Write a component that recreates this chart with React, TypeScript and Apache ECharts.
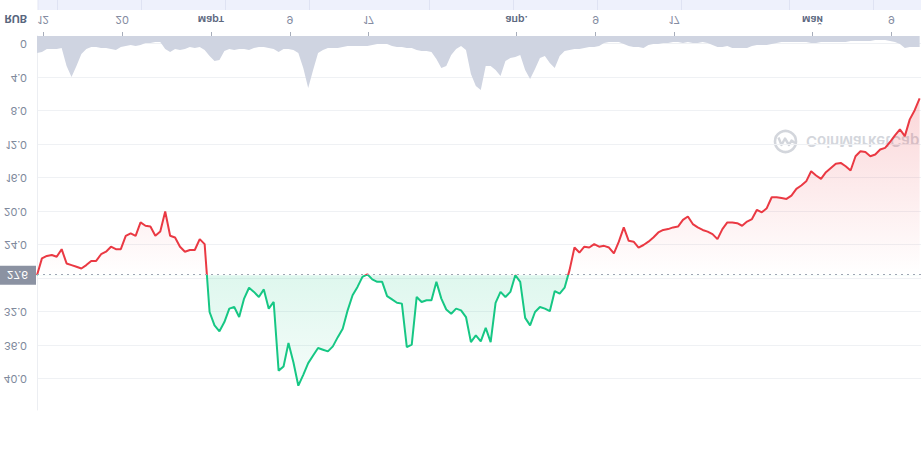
import { useEffect, useRef } from "react";
import * as echarts from "echarts";

// ---- data (12-hour steps) ----
const START = Date.UTC(2025, 1, 11, 8, 40);
const END = Date.UTC(2025, 4, 12);
const STEP_MS = 12 * 3600 * 1000;

const PRICE = [
  27.6, 25.6, 25.3, 25.2, 25.4, 24.5, 26.2, 26.4, 26.6, 26.8,
  26.4, 25.9, 25.9, 25.1, 24.8, 24.2, 24.5, 24.5, 22.9, 22.6,
  22.9, 21.3, 21.7, 21.8, 22.9, 22.4, 20.0, 22.9, 23.1, 24.2,
  24.8, 24.6, 24.6, 23.3, 23.9, 32.0, 33.6, 34.3, 33.2, 31.6,
  31.4, 32.6, 30.4, 29.1, 29.6, 30.2, 29.3, 31.6, 30.8, 39.0,
  38.5, 35.7, 38.0, 40.8, 39.5, 38.1, 37.2, 36.3, 36.5, 36.7,
  36.1, 35.0, 34.0, 31.8, 30.0, 29.0, 27.8, 27.5, 28.1, 28.4,
  28.4, 30.1, 30.5, 30.9, 31.0, 36.2, 35.9, 30.2, 30.8, 30.6,
  30.6, 28.4, 30.4, 31.7, 32.2, 31.6, 31.8, 32.6, 35.6, 34.8,
  35.5, 33.9, 35.6, 30.9, 29.6, 30.2, 29.6, 27.6, 28.4, 32.7,
  33.6, 32.0, 31.4, 31.6, 31.9, 29.5, 29.8, 29.1, 27.0, 24.3,
  24.9, 24.2, 24.3, 23.9, 24.2, 24.1, 24.3, 25.0, 23.6, 21.9,
  23.5, 23.6, 24.3, 24.0, 23.6, 23.1, 22.5, 22.2, 22.1, 21.9,
  21.8, 21.0, 20.6, 21.5, 21.9, 22.2, 22.4, 22.7, 23.3, 22.1,
  21.3, 21.3, 21.4, 21.7, 21.2, 20.9, 19.8, 20.1, 19.6, 18.3,
  18.3, 18.4, 18.5, 18.1, 17.3, 16.9, 16.4, 15.2, 15.7, 16.1,
  15.3, 14.8, 14.3, 14.2, 14.6, 15.1, 13.4, 12.8, 12.9, 13.4,
  13.2, 12.6, 12.4, 11.7, 10.9, 10.2, 11.0, 9.0, 7.9, 6.5,
];

const VOLUME = [
  17, 16, 13, 13, 13, 12, 30, 41, 30, 18,
  13, 11, 11, 12, 12, 13, 14, 11, 10, 9,
  10, 9, 7, 7, 6, 6, 13, 16, 13, 14,
  13, 11, 12, 11, 14, 20, 25, 24, 15, 13,
  14, 13, 13, 14, 12, 11, 11, 12, 13, 16,
  13, 13, 14, 17, 32, 52, 34, 17, 14, 12,
  12, 12, 11, 10, 10, 10, 10, 10, 9, 8,
  8, 8, 10, 11, 11, 12, 12, 14, 15, 15,
  16, 23, 32, 30, 19, 13, 10, 14, 38, 50,
  54, 30, 30, 34, 40, 25, 22, 21, 19, 34,
  43, 33, 22, 20, 27, 32, 20, 15, 14, 13,
  13, 12, 11, 11, 10, 7, 6, 6, 6, 8,
  10, 11, 11, 12, 9, 8, 8, 7, 7, 6,
  6, 7, 6, 7, 7, 6, 7, 9, 11, 11,
  10, 12, 12, 12, 12, 10, 9, 9, 9, 8,
  7, 6, 6, 6, 6, 6, 6, 7, 7, 6,
  6, 6, 6, 6, 6, 5, 5, 5, 5, 5,
  4, 4, 4, 5, 6, 8, 12, 11, 11, 11,
];

const REF_PRICE = 27.6;
const REF_LABEL = "27.6";
const PRICE_MIN = 0;
const PRICE_MAX = 43.7;
const PRICE_INTERVAL = 4;
const VOLUME_MAX = 100;
const CURRENCY = "RUB";

const TICK_DATES: [number, number, number][] = [
  [2025, 1, 12], [2025, 1, 20], [2025, 2, 1], [2025, 2, 9], [2025, 2, 17],
  [2025, 3, 1], [2025, 3, 9], [2025, 3, 17], [2025, 4, 1], [2025, 4, 9],
];
const MONTHS = ["янв.", "февр.", "март", "апр.", "май", "июнь", "июль", "авг.", "сент.", "окт.", "нояб.", "дек."];

// ---- layout ----
const W = 921;
const H = 467;
const GRID_LEFT = 37;
const PRICE_TOP = 57;
const PRICE_BOTTOM = 44;
const VOL_BOTTOM = 36;
const VOL_HEIGHT = 100;
const NAV_DIVIDERS = [57.5, 141.5, 225.5, 309.5, 429.5, 513.5, 597.5, 681.5, 789.5, 873.5];
const FONT = "Inter, Roboto, 'Noto Sans', sans-serif";

export default function App() {
  const ref = useRef<HTMLDivElement>(null);

  useEffect(() => {
    if (!ref.current) return;
    const chart = echarts.init(ref.current, undefined, { renderer: "svg" });

    const priceData = PRICE.map((v, i) => [START + i * STEP_MS, v]);
    const volData = VOLUME.map((v, i) => [START + i * STEP_MS, v]);
    const ticks = TICK_DATES.map(([y, m, d]) => Date.UTC(y, m, d));

    const gTop = PRICE_TOP;
    const gBot = H - PRICE_BOTTOM;
    const refOff = (PRICE_MAX - REF_PRICE) / (PRICE_MAX - PRICE_MIN);

    const lineGrad = new echarts.graphic.LinearGradient(0, gTop, 0, gBot, [
      { offset: 0, color: "#16c784" },
      { offset: refOff, color: "#16c784" },
      { offset: refOff, color: "#ea3943" },
      { offset: 1, color: "#ea3943" },
    ], true);
    const areaGrad = new echarts.graphic.LinearGradient(0, gTop, 0, gBot, [
      { offset: 0, color: "rgba(22,199,132,0.02)" },
      { offset: refOff, color: "rgba(22,199,132,0.14)" },
      { offset: refOff, color: "rgba(234,57,67,0.0)" },
      { offset: 1, color: "rgba(234,57,67,0.27)" },
    ], true);

    chart.setOption({
      animation: false,
      textStyle: { fontFamily: FONT },
      grid: [
        { left: GRID_LEFT, right: 0, top: PRICE_TOP, bottom: PRICE_BOTTOM },
        { left: GRID_LEFT, right: 0, bottom: VOL_BOTTOM, height: VOL_HEIGHT },
      ],
      xAxis: [
        { type: "value", gridIndex: 0, min: START, max: END, show: false, splitLine: { show: false } },
        {
          type: "value",
          gridIndex: 1,
          min: START,
          max: END,
          axisLine: { show: false },
          splitLine: { show: false },
          axisTick: {
            show: true,
            customValues: ticks,
            length: 4,
            lineStyle: { color: "#a7adba", width: 1 },
          },
          axisLabel: {
            customValues: ticks,
            margin: 11,
            color: "#858ca2",
            fontSize: 11,
            fontFamily: FONT,
            formatter: (val: number) => {
              const d = new Date(val);
              const day = d.getUTCDate();
              if (day === 1) return "{m|" + MONTHS[d.getUTCMonth()] + "}";
              return String(day);
            },
            rich: {
              m: { fontSize: 10.5, fontWeight: 600, color: "#5d6880", fontFamily: FONT },
            },
          },
        },
      ],
      yAxis: [
        {
          type: "value",
          gridIndex: 0,
          min: PRICE_MIN,
          max: PRICE_MAX,
          interval: PRICE_INTERVAL,
          axisLine: { show: true, lineStyle: { color: "#eceef2" } },
          axisTick: { show: false },
          axisLabel: {
            margin: 10,
            color: "#808a9d",
            fontSize: 11,
            fontFamily: FONT,
            showMaxLabel: false,
            formatter: (v: number) => {
              if (v === 0) return "0";
              if (Math.abs(v - REF_PRICE) < 1) return "";
              if (v > PRICE_MAX - 1) return "";
              return v.toFixed(1);
            },
          },
          splitLine: { show: true, showMaxLine: false, lineStyle: { color: "#eff1f4", width: 1 } },
        },
        {
          type: "value",
          gridIndex: 1,
          min: 0,
          max: VOLUME_MAX,
          axisLine: { show: true, lineStyle: { color: "#eceef2" } },
          axisTick: { show: false },
          axisLabel: { show: false },
          splitLine: { show: false },
        },
      ],
      series: [
        {
          type: "line",
          name: "volume",
          xAxisIndex: 1,
          yAxisIndex: 1,
          data: volData,
          symbol: "none",
          silent: true,
          lineStyle: { width: 0 },
          areaStyle: { color: "#cfd4e1", opacity: 1 },
        },
        {
          type: "line",
          name: "price",
          xAxisIndex: 0,
          yAxisIndex: 0,
          data: priceData,
          symbol: "none",
          silent: true,
          lineStyle: { width: 2, color: lineGrad },
          areaStyle: { origin: REF_PRICE, color: areaGrad, opacity: 1 },
          markLine: {
            symbol: "none",
            silent: true,
            animation: false,
            lineStyle: { type: [2, 4], width: 1.2, color: "#9ea5b3" },
            label: {
              show: true,
              position: "start",
              distance: 1,
              formatter: REF_LABEL,
              color: "#ffffff",
              backgroundColor: "#8b92a2",
              padding: [3, 8, 3, 7],
              fontSize: 11,
              lineHeight: 13,
              fontFamily: FONT,
            },
            emphasis: { disabled: true },
            data: [{ yAxis: REF_PRICE }],
          },
        },
      ],
      graphic: [
        {
          type: "rect",
          silent: true,
          shape: { x: 38, y: H - 10, width: W - 38, height: 10 },
          style: { fill: "#eef1fc" },
        },
        ...NAV_DIVIDERS.map((x) => ({
          type: "line",
          silent: true,
          shape: { x1: x, y1: H - 10, x2: x, y2: H },
          style: { stroke: "#dfe3f3", lineWidth: 1 },
        })),
        {
          type: "line",
          silent: true,
          shape: { x1: 38, y1: H - 10, x2: 38, y2: H },
          style: { stroke: "#e3e6f3", lineWidth: 1 },
        },
        {
          type: "text",
          silent: true,
          x: 27,
          y: 448,
          style: {
            text: CURRENCY,
            fill: "#58667e",
            fontSize: 11,
            fontWeight: "bold",
            fontFamily: FONT,
            align: "right",
            verticalAlign: "middle",
          },
        },
        {
          type: "group",
          silent: true,
          x: 785.5,
          y: 325.5,
          children: [
            {
              type: "circle",
              shape: { cx: 0, cy: 0, r: 10.5 },
              style: { fill: "none", stroke: "#d3d6dc", lineWidth: 2.6 },
            },
            {
              type: "polyline",
              shape: { points: [[-7, 4], [-4, -3.5], [-0.5, 3], [3.5, -3.5], [6, 1], [9.5, -1.5]] },
              style: { fill: "none", stroke: "#d3d6dc", lineWidth: 2.4, lineJoin: "round" },
            },
          ],
        },
        {
          type: "text",
          silent: true,
          x: 806,
          y: 325.5,
          style: {
            text: "CoinMarketCap",
            fill: "#d3d6dc",
            fontSize: 15,
            fontWeight: 600,
            fontFamily: FONT,
            align: "left",
            verticalAlign: "middle",
          },
        },
      ],
    });

    return () => chart.dispose();
  }, []);

  return (
    <div
      ref={ref}
      style={{
        position: "absolute",
        left: 0,
        top: 0,
        width: W,
        height: H,
        transform: "scaleY(-1)",
      }}
    />
  );
}
